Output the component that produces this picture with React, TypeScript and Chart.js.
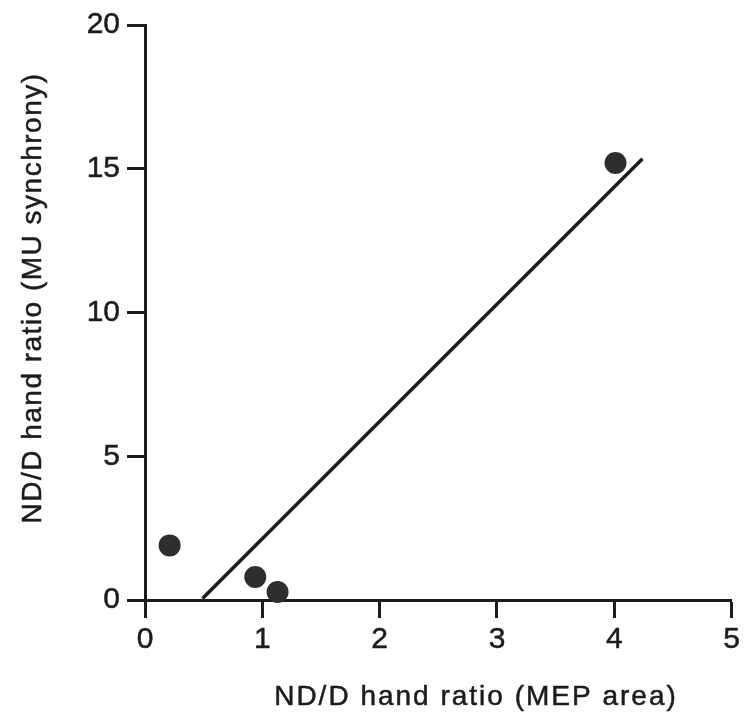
import React, { useEffect, useRef } from "react";
import { Chart, registerables } from "chart.js";

Chart.register(...registerables);

const pointsX = [0.21, 0.94, 1.13, 4.01];
const pointsY = [1.9, 0.8, 0.28, 15.2];
const fitX = [0.49, 4.24];
const fitY = [0.05, 15.35];
const xTicks = [0, 1, 2, 3, 4, 5];
const yTicks = [0, 5, 10, 15, 20];
const xTitle = "ND/D hand ratio (MEP area)";
const yTitle = "ND/D hand ratio (MU synchrony)";

const INK = "#1c1c1c";
const FONT = '"Liberation Sans", Arial, Helvetica, sans-serif';

const titlePlugin = {
  id: "axisTitles",
  afterDraw(chart: any) {
    const ctx = chart.ctx as CanvasRenderingContext2D;
    ctx.save();
    ctx.fillStyle = INK;
    ctx.strokeStyle = INK;
    ctx.lineWidth = 0.5;
    ctx.font = `28px ${FONT}`;
    (ctx as any).letterSpacing = "2px";
    ctx.textAlign = "center";
    ctx.textBaseline = "alphabetic";
    ctx.fillText(xTitle, 476, 705);
    ctx.strokeText(xTitle, 476, 705);
    ctx.translate(41, 298);
    ctx.rotate(-Math.PI / 2);
    (ctx as any).letterSpacing = "1.5px";
    ctx.fillText(yTitle, 0, 0);
    ctx.strokeText(yTitle, 0, 0);
    ctx.restore();
  },
};

export default function App() {
  const ref = useRef<HTMLCanvasElement | null>(null);
  useEffect(() => {
    if (!ref.current) return;
    const chart = new Chart(ref.current, {
      type: "scatter",
      data: {
        datasets: [
          {
            label: "fit",
            data: fitX.map((x, i) => ({ x, y: fitY[i] })),
            showLine: true,
            borderColor: INK,
            borderWidth: 3.5,
            pointRadius: 0,
            clip: false as any,
          },
          {
            label: "points",
            data: pointsX.map((x, i) => ({ x, y: pointsY[i] })),
            backgroundColor: "#2e2e2e",
            borderColor: "#2e2e2e",
            borderWidth: 0,
            pointRadius: 11,
            clip: false as any,
          },
        ],
      },
      options: {
        responsive: false,
        animation: false,
        devicePixelRatio: 1,
        layout: { padding: { left: 0, top: 24, right: 11, bottom: 0 } },
        plugins: { legend: { display: false }, tooltip: { enabled: false } },
        scales: {
          x: {
            type: "linear",
            min: 0,
            max: 5,
            afterFit(scale: any) {
              scale.height = 113;
            },
            afterBuildTicks(scale: any) {
              scale.ticks = xTicks.map((v) => ({ value: v }));
            },
            border: { display: true, color: INK, width: 3 },
            grid: {
              drawOnChartArea: false,
              drawTicks: true,
              tickLength: 18,
              tickWidth: 3,
              tickColor: INK,
            },
            ticks: {
              color: INK,
              font: { family: FONT, size: 30 },
              padding: 4,
              maxRotation: 0,
              textStrokeColor: INK,
              textStrokeWidth: 0.5,
            },
          },
          y: {
            type: "linear",
            min: 0,
            max: 20,
            afterFit(scale: any) {
              scale.width = 145;
            },
            afterBuildTicks(scale: any) {
              scale.ticks = yTicks.map((v) => ({ value: v }));
            },
            border: { display: true, color: INK, width: 3 },
            grid: {
              drawOnChartArea: false,
              drawTicks: true,
              tickLength: 18,
              tickWidth: 3,
              tickColor: INK,
            },
            ticks: {
              color: INK,
              font: { family: FONT, size: 30 },
              padding: 7,
              textStrokeColor: INK,
              textStrokeWidth: 0.5,
            },
          },
        },
      },
      plugins: [titlePlugin],
    });
    return () => chart.destroy();
  }, []);
  return (
    <div style={{ position: "absolute", left: 0, top: 0, width: 744, height: 713, background: "#fff" }}>
      <canvas ref={ref} width={744} height={713} style={{ display: "block" }} />
    </div>
  );
}
